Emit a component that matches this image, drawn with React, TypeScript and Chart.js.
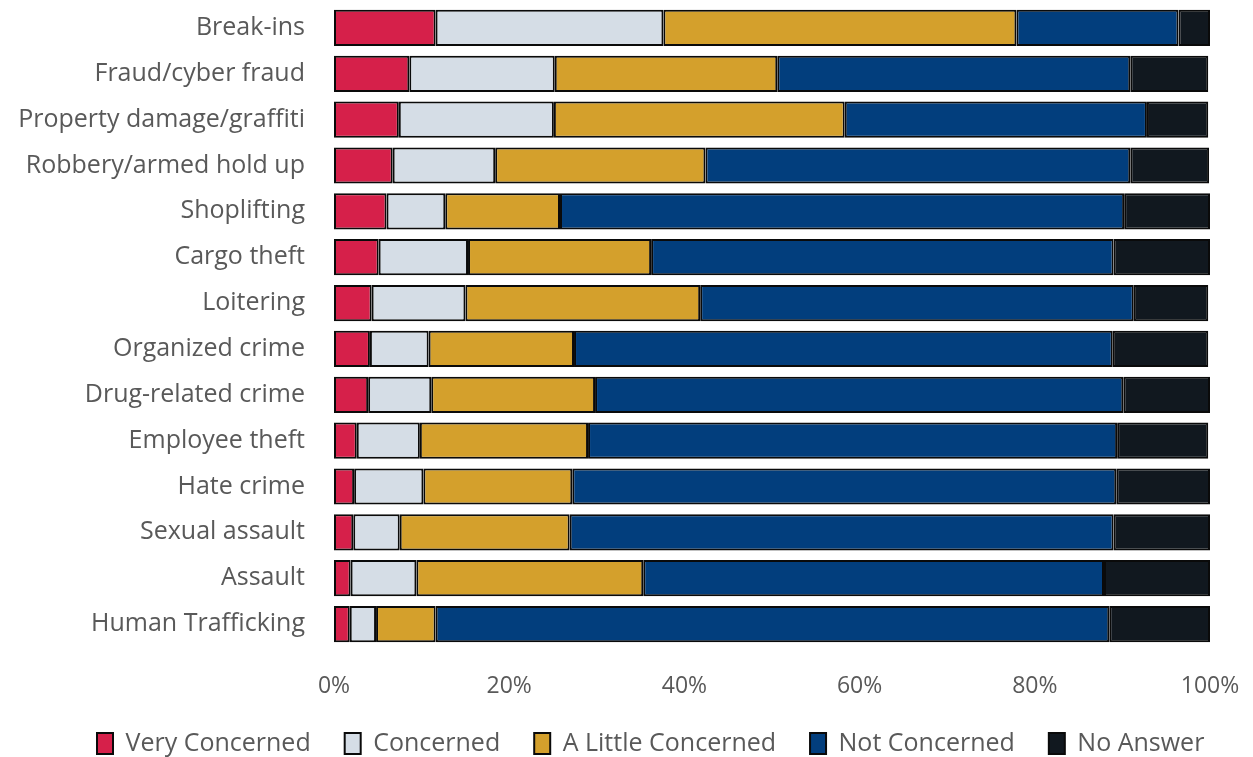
import React, { useEffect, useRef } from "react";
import { Chart, registerables } from "chart.js";

Chart.register(...registerables);

const categories = [
  "Break-ins",
  "Fraud/cyber fraud",
  "Property damage/graffiti",
  "Robbery/armed hold up",
  "Shoplifting",
  "Cargo theft",
  "Loitering",
  "Organized crime",
  "Drug-related crime",
  "Employee theft",
  "Hate crime",
  "Sexual assault",
  "Assault",
  "Human Trafficking",
];

const veryConcerned = [11.6, 8.6, 7.4, 6.7, 6.0, 5.1, 4.3, 4.1, 3.9, 2.6, 2.3, 2.2, 1.9, 1.8];
const concerned = [26.0, 16.6, 17.7, 11.7, 6.7, 10.2, 10.7, 6.7, 7.2, 7.2, 7.9, 5.3, 7.5, 3.0];
const aLittleConcerned = [40.3, 25.4, 33.2, 24.0, 13.1, 20.9, 26.8, 16.6, 18.7, 19.2, 17.0, 19.4, 25.9, 6.8];
const notConcerned = [18.5, 40.3, 34.5, 48.5, 64.4, 52.8, 49.5, 61.5, 60.3, 60.4, 62.1, 62.1, 52.6, 76.9];
const noAnswer = [3.6, 8.9, 7.0, 9.0, 9.8, 11.0, 8.5, 10.9, 9.9, 10.4, 10.7, 11.0, 12.1, 11.5];

const xTicks = [0, 20, 40, 60, 80, 100];

const seriesNames = ["Very Concerned", "Concerned", "A Little Concerned", "Not Concerned", "No Answer"];
const seriesColors = ["#D6204A", "#D5DDE6", "#D4A02C", "#023E7D", "#11181F"];

const legendShift = {
  id: "legendShift",
  beforeDraw(chart: any) {
    const lg = chart.legend;
    if (!lg) return;
    const pad = lg.options.labels.padding;
    const w = lg.right - lg.left;
    lg.left = 97 - pad;
    lg.right = lg.left + w;
  },
};

export default function App() {
  const canvasRef = useRef<HTMLCanvasElement | null>(null);

  useEffect(() => {
    if (!canvasRef.current) return;
    const seriesData = [veryConcerned, concerned, aLittleConcerned, notConcerned, noAnswer];
    const font = "'Open Sans', sans-serif";
    const chart = new Chart(canvasRef.current, {
      type: "bar",
      data: {
        labels: categories,
        datasets: seriesNames.map((name, i) => ({
          label: name,
          data: seriesData[i],
          backgroundColor: seriesColors[i],
          borderColor: "#0a0a0a",
          borderWidth: 2,
          borderSkipped: false,
          barPercentage: 0.79,
          categoryPercentage: 1,
        })),
      },
      plugins: [legendShift],
      options: {
        indexAxis: "y",
        animation: false,
        responsive: true,
        maintainAspectRatio: false,
        layout: { padding: { left: 0, right: 43, top: 5, bottom: -9 } },
        scales: {
          x: {
            stacked: true,
            min: 0,
            max: 100,
            afterBuildTicks: (scale: any) => {
              scale.ticks = xTicks.map((v) => ({ value: v }));
            },
            afterFit: (scale: any) => {
              scale.height = 50;
              scale.paddingLeft = 0;
              scale.paddingRight = 0;
            },
            grid: { display: false },
            border: { display: false },
            ticks: {
              callback: (v: any) => v + "%",
              color: "#595959",
              font: { family: font, size: 23 },
              padding: 18,
              maxRotation: 0,
            },
          },
          y: {
            stacked: true,
            afterFit: (scale: any) => {
              scale.width = 334;
              scale.paddingTop = 0;
              scale.paddingBottom = 0;
            },
            grid: { display: false },
            border: { display: false },
            ticks: {
              color: "#595959",
              font: { family: font, size: 25 },
              padding: 21,
            },
          },
        },
        plugins: {
          tooltip: { enabled: false },
          legend: {
            position: "bottom",
            align: "start",
            labels: {
              color: "#595959",
              font: { family: font, size: 25 },
              boxWidth: 16,
              boxHeight: 21,
              padding: 34,
            },
          },
        },
      },
    });
    return () => chart.destroy();
  }, []);

  return (
    <div style={{ position: "fixed", left: 0, top: 0, width: 1253, height: 757, background: "#fff" }}>
      <canvas ref={canvasRef} />
    </div>
  );
}
